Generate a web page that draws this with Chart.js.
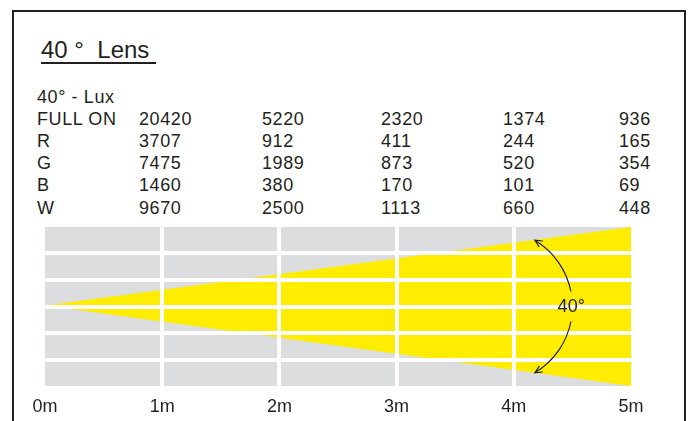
<!DOCTYPE html>
<html>
<head>
<meta charset="utf-8">
<script src="https://cdn.jsdelivr.net/npm/chart.js@4/dist/chart.umd.min.js"></script>
<style>
  html, body { margin: 0; padding: 0; background: #fff; }
  body { width: 688px; height: 421px; position: relative; overflow: hidden;
         font-family: "Liberation Sans", Arial, sans-serif; color: #231f20; }
  #frame { position: absolute; left: 12px; top: 10px; width: 674px; height: 480px;
           box-sizing: border-box; border: 2px solid #231f20; }
  #title { position: absolute; left: 41px; top: 36px; font-size: 24px; line-height: 28px;
           white-space: pre; text-decoration: underline; text-decoration-thickness: 2px;
           text-underline-offset: 4px; }
  .cell { position: absolute; font-size: 18px; line-height: 22px; letter-spacing: 0.6px; white-space: pre; }
  #wrap { position: absolute; left: 0; top: 215px; width: 688px; height: 216px; }
</style>
</head>
<body>
<div id="frame"></div>
<div id="title">40 °  Lens </div>
<div id="table"></div>
<div id="wrap"><canvas id="myChart" width="688" height="216"></canvas></div>
<script>
// lux table
const tableHeader = '40° - Lux';
const rowLabels = ['FULL ON', 'R', 'G', 'B', 'W'];
const luxFull = [20420, 5220, 2320, 1374, 936];
const luxR = [3707, 912, 411, 244, 165];
const luxG = [7475, 1989, 873, 520, 354];
const luxB = [1460, 380, 170, 101, 69];
const luxW = [9670, 2500, 1113, 660, 448];

// beam diagram
const tickLabels = ['0m', '1m', '2m', '3m', '4m', '5m'];
const beamX = [0, 5];
const beamTop = [0.04, 3];
const beamBottom = [0.04, -3];
const beamAngle = '40°';

function buildTable() {
  const table = document.getElementById('table');
  const rows = [luxFull, luxR, luxG, luxB, luxW];
  const colLeft = [37, 139, 262, 381, 503, 619];
  const addCell = (text, left, top) => {
    const d = document.createElement('div');
    d.className = 'cell';
    d.textContent = text;
    d.style.left = left + 'px';
    d.style.top = top + 'px';
    table.appendChild(d);
  };
  addCell(tableHeader, colLeft[0], 86);
  rows.forEach((vals, i) => {
    const top = 86 + (i + 1) * 22.1;
    addCell(rowLabels[i], colLeft[0], top);
    vals.forEach((v, j) => addCell(String(v), colLeft[j + 1], top));
  });
}

const grayBackground = {
  id: 'grayBackground',
  beforeDraw(chart) {
    const { ctx, chartArea: a } = chart;
    ctx.save();
    ctx.fillStyle = '#dcddde';
    ctx.fillRect(a.left, a.top, a.right - a.left, a.bottom - a.top);
    ctx.restore();
  }
};

// the curved double arrow with the beam angle
const angleArrow = {
  id: 'angleArrow',
  afterDraw(chart) {
    const { ctx } = chart;
    const xs = chart.scales.x, ys = chart.scales.y;
    const tx = xs.getPixelForValue(4.18);
    const ty1 = ys.getPixelForValue(2.5);
    const ty2 = ys.getPixelForValue(-2.5);
    const bx = xs.getPixelForValue(4.5);
    const cy = (ty1 + ty2) / 2;
    const dy = (ty2 - ty1) / 2;
    const cx = (bx * bx - tx * tx - dy * dy) / (2 * (bx - tx));
    const r = bx - cx;
    const a0 = Math.atan2(ty1 - cy, tx - cx);
    const gap = Math.asin(15 / r);
    ctx.save();
    ctx.strokeStyle = '#231f20';
    ctx.lineWidth = 1.2;
    ctx.beginPath();
    ctx.arc(cx, cy, r, a0, -gap);
    ctx.stroke();
    ctx.beginPath();
    ctx.arc(cx, cy, r, gap, -a0);
    ctx.stroke();
    const head = (x, y, dx, dy) => {
      const ang = Math.atan2(dy, dx);
      ctx.beginPath();
      ctx.moveTo(x - 8 * Math.cos(ang - 0.45), y - 8 * Math.sin(ang - 0.45));
      ctx.lineTo(x, y);
      ctx.lineTo(x - 8 * Math.cos(ang + 0.45), y - 8 * Math.sin(ang + 0.45));
      ctx.stroke();
    };
    head(tx, ty1, Math.sin(a0), -Math.cos(a0));
    head(tx, ty2, Math.sin(a0), Math.cos(a0));
    ctx.fillStyle = '#231f20';
    ctx.font = '18px "Liberation Sans", Arial, sans-serif';
    ctx.textAlign = 'center';
    ctx.textBaseline = 'middle';
    ctx.fillText(beamAngle, xs.getPixelForValue(4.49), ys.getPixelForValue(0) + 1);
    ctx.restore();
  }
};

function drawDiagram() {
  const ctx = document.getElementById('myChart');
  const edge = (v, lo, hi) => (v === lo || v === hi) ? 'rgba(0,0,0,0)' : '#ffffff';

  new Chart(ctx, {
    type: 'line',
    data: {
      datasets: [{
        data: beamX.map((x, i) => ({ x: x, y: beamTop[i] })),
        borderWidth: 0,
        pointRadius: 0,
        fill: false
      }, {
        data: beamX.map((x, i) => ({ x: x, y: beamBottom[i] })),
        borderWidth: 0,
        pointRadius: 0,
        backgroundColor: '#ffed00',
        fill: '-1'
      }]
    },
    options: {
      responsive: false,
      animation: false,
      devicePixelRatio: 1,
      layout: { padding: { left: 45, right: 57, top: 12, bottom: 3.4 } },
      plugins: { legend: { display: false }, tooltip: { enabled: false } },
      scales: {
        x: {
          type: 'linear', min: 0, max: 5,
          border: { display: false },
          grid: {
            z: 1, lineWidth: 4, drawTicks: false,
            color: c => edge(c.tick.value, 0, 5)
          },
          ticks: {
            stepSize: 1, padding: 10, maxRotation: 0, autoSkip: false,
            color: '#231f20',
            font: { family: '"Liberation Sans", Arial, sans-serif', size: 18 },
            callback: v => tickLabels[v]
          }
        },
        y: {
          min: -3, max: 3,
          border: { display: false },
          grid: {
            z: 1, lineWidth: 4, drawTicks: false,
            color: c => edge(c.tick.value, -3, 3)
          },
          ticks: { stepSize: 1, display: false }
        }
      }
    },
    plugins: [grayBackground, angleArrow]
  });
}

buildTable();
drawDiagram();
</script>
</body>
</html>
